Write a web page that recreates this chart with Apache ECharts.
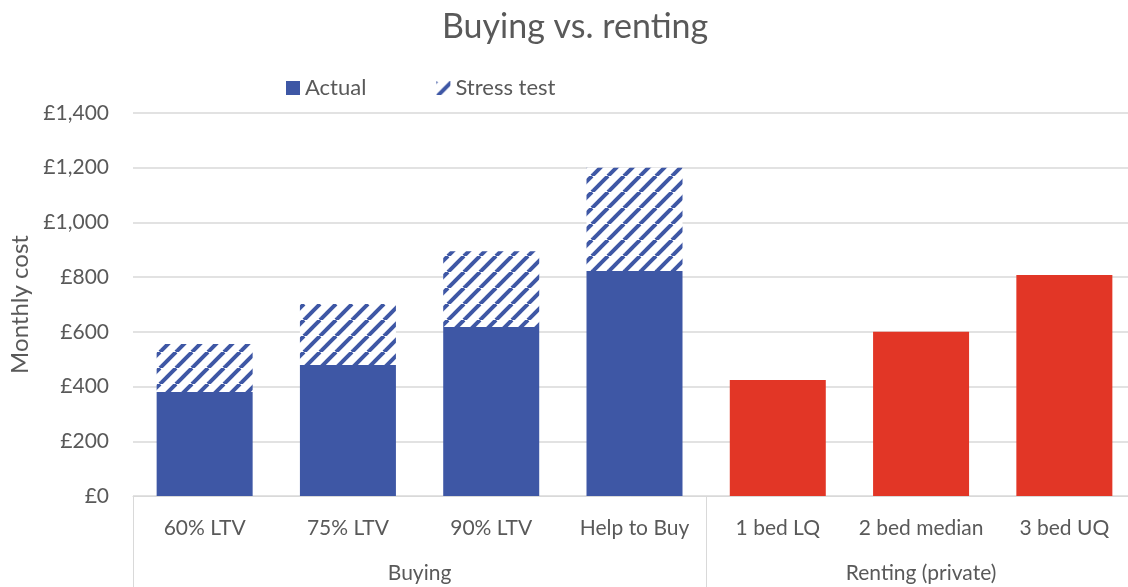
<!DOCTYPE html>
<html>
<head>
<meta charset="utf-8">
<script src="https://cdn.jsdelivr.net/npm/echarts@6/dist/echarts.min.js"></script>
<style>
html,body{margin:0;padding:0;background:#fff;}
#main{width:1128px;height:587px;}
</style>
</head>
<body>
<div id="main"></div>
<script>
/*数据*/
var categories = ['60% LTV','75% LTV','90% LTV','Help to Buy','1 bed LQ','2 bed median','3 bed UQ'];
var actualValues = [380, 479, 618, 822, 424, 600, 808];
var stressValues = [176, 223, 277, 378, '-', '-', '-'];
var groupNames = ['Buying', 'Renting (private)'];
var groupBounds = [0, 4, 7];
var groupCentres = [2, 5.5];
var yTicks = [0, 200, 400, 600, 800, 1000, 1200, 1400];

var BLUE = '#3E57A5', RED = '#E23626', GREY = '#595959', LINE = '#d9d9d9';
var FONT = 'Lato';

/*斜线填充*/
function makeHatch(){
	var s = 16;
	var c = document.createElement('canvas');
	c.width = s; c.height = s;
	var ctx = c.getContext('2d');
	ctx.fillStyle = '#fff';
	ctx.fillRect(0, 0, s, s);
	ctx.strokeStyle = BLUE;
	ctx.lineWidth = 4;
	for (var k = -1; k <= 1; k++) {
		ctx.beginPath();
		ctx.moveTo(k * s, s);
		ctx.lineTo(k * s + s, 0);
		ctx.stroke();
	}
	return c;
}
var hatch = {image: makeHatch(), repeat: 'repeat'};

var actualData = [];
for (var i = 0; i < actualValues.length; i++) {
	actualData.push({value: actualValues[i], itemStyle: {color: i < groupBounds[1] ? BLUE : RED}});
}

var chart = echarts.init(document.getElementById('main'));
var option = {
	animation: false,
	textStyle: {fontFamily: FONT, color: GREY},
	title: {
		text: 'Buying vs. renting', left: 437, top: 5,
		textStyle: {fontFamily: FONT, fontSize: 34, fontWeight: 'normal', color: GREY}
	},
	legend: {
		left: 281, top: 72, itemWidth: 14, itemHeight: 14, itemGap: 70,
		icon: 'rect',
		textStyle: {fontFamily: FONT, fontSize: 22, color: GREY},
		data: ['Actual', 'Stress test']
	},
	grid: {left: 133, width: 1003, top: 113, bottom: 91, outerBoundsMode: 'none'},
	xAxis: [{
		type: 'category', data: categories,
		axisLine: {lineStyle: {color: LINE, width: 1}},
		axisTick: {show: false},
		axisLabel: {margin: 22, fontSize: 21, color: GREY, fontFamily: FONT, interval: 0}
	}, {
		type: 'value', min: 0, max: 7, position: 'bottom',
		axisLine: {show: false},
		splitLine: {show: false},
		axisTick: {show: true, customValues: groupBounds, length: 91, lineStyle: {color: LINE}},
		axisLabel: {
			customValues: groupCentres, margin: 67, fontSize: 21, color: GREY, fontFamily: FONT,
			formatter: function(v){ return groupNames[groupCentres.indexOf(v)]; }
		}
	}],
	yAxis: {
		type: 'value', min: yTicks[0], max: yTicks[yTicks.length - 1], interval: 200,
		name: 'Monthly cost', nameLocation: 'middle', nameGap: 99,
		nameTextStyle: {fontSize: 24, color: GREY, fontFamily: FONT},
		axisLine: {show: false}, axisTick: {show: false},
		splitLine: {lineStyle: {color: LINE, width: 1.5}},
		axisLabel: {
			margin: 24, fontSize: 21, color: GREY, fontFamily: FONT,
			formatter: function(v){ return '£' + v.toLocaleString('en-GB'); }
		}
	},
	series: [{
		name: 'Actual', type: 'bar', stack: 'cost', data: actualData,
		itemStyle: {color: BLUE}, barCategoryGap: '33%'
	}, {
		name: 'Stress test', type: 'bar', stack: 'cost', data: stressValues,
		itemStyle: {color: hatch}
	}]
};
chart.setOption(option);
</script>
</body>
</html>
